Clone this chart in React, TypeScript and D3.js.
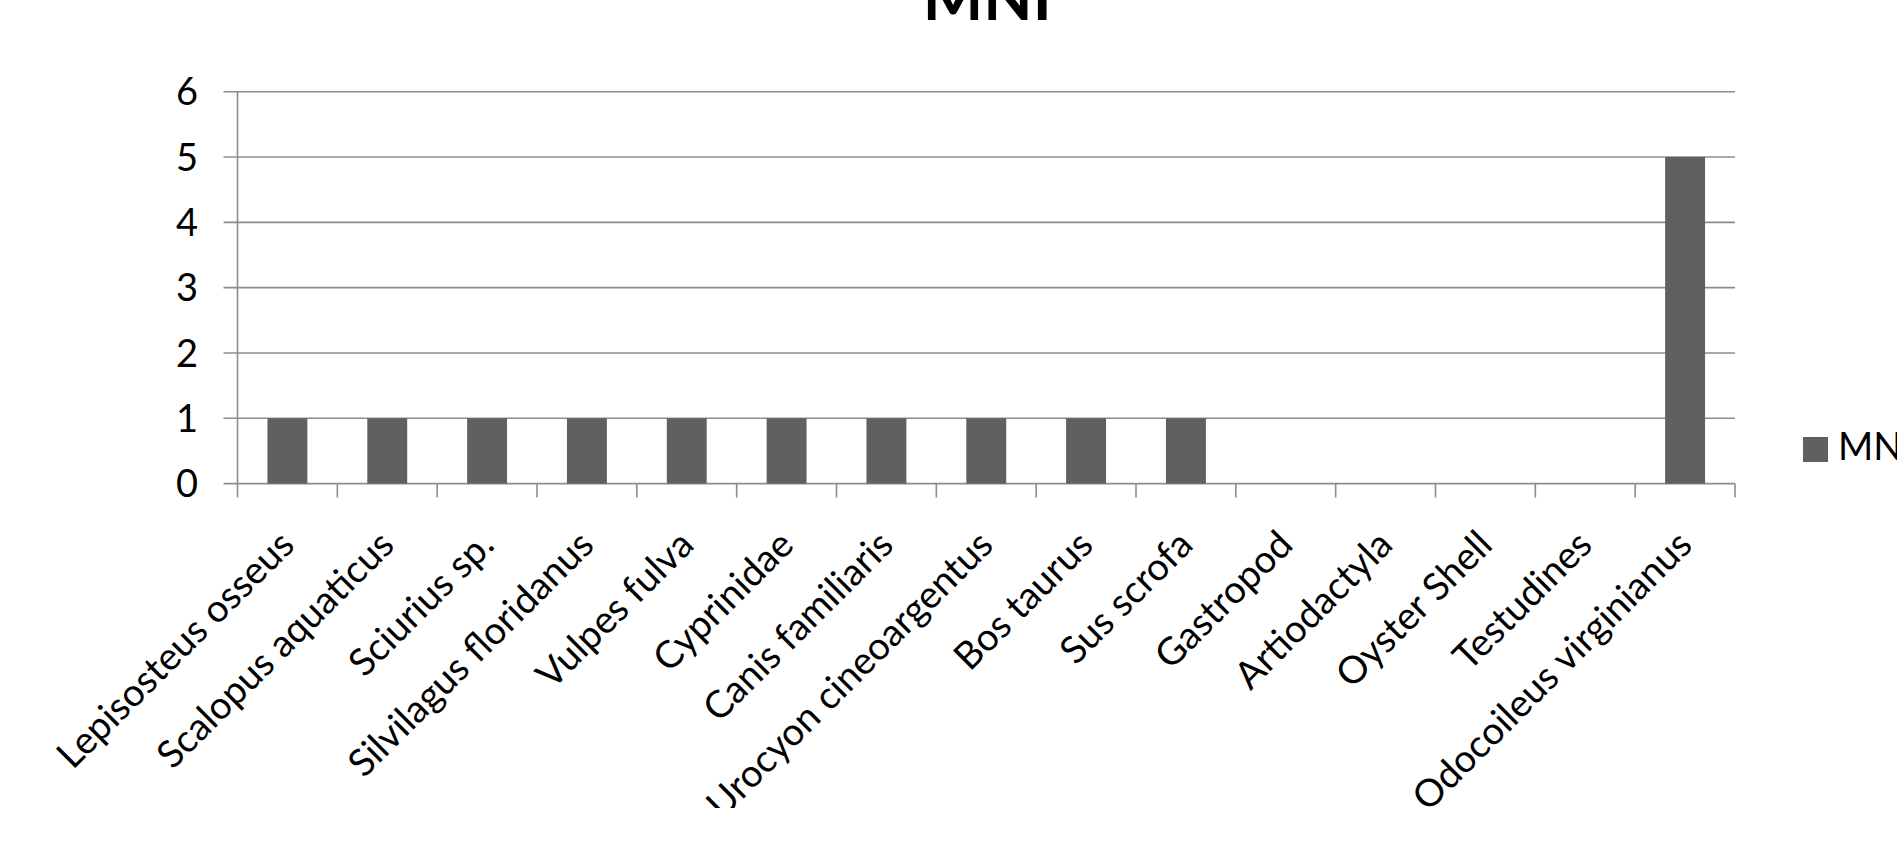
import { useEffect, useRef } from 'react';
import * as d3 from 'd3';

const categories = [
  'Lepisosteus osseus',
  'Scalopus aquaticus',
  'Sciurius sp.',
  'Silvilagus floridanus',
  'Vulpes fulva',
  'Cyprinidae',
  'Canis familiaris',
  'Urocyon cineoargentus',
  'Bos taurus',
  'Sus scrofa',
  'Gastropod',
  'Artiodactyla',
  'Oyster Shell',
  'Testudines',
  'Odocoileus virginianus',
];
const mniValues = [1, 1, 1, 1, 1, 1, 1, 1, 1, 1, 0, 0, 0, 0, 5];
const yTicks = [0, 1, 2, 3, 4, 5, 6];
const seriesName = 'MNI';
const chartTitle = 'MNI';

const FONT = 'Lato, "Open Sans", sans-serif';
const BAR = '#606060';
const GRID = '#8c8c8c';

export default function App() {
  const svgRef = useRef<SVGSVGElement>(null);

  useEffect(() => {
    const svg = d3.select(svgRef.current);
    if (!svg.node()) return;
    svg.selectAll('*').remove();

    const width = 1897;
    const height = 862;
    const plot = { left: 237.5, right: 1735, top: 91.7, bottom: 483.6 };

    svg
      .append('defs')
      .append('clipPath')
      .attr('id', 'chart-clip')
      .append('rect')
      .attr('width', width)
      .attr('height', 808);

    const root = svg.append('g').attr('clip-path', 'url(#chart-clip)');

    const x = d3
      .scaleBand<string>()
      .domain(categories)
      .range([plot.left, plot.right])
      .paddingInner(0.6)
      .paddingOuter(0.3);
    const y = d3.scaleLinear().domain([0, 6]).range([plot.bottom, plot.top]);
    const step = x.step();

    // title (cut off at top like the source)
    root
      .append('text')
      .attr('x', (plot.left + plot.right) / 2 + 1)
      .attr('y', 20)
      .attr('text-anchor', 'middle')
      .attr('font-family', FONT)
      .attr('font-weight', 700)
      .attr('font-size', 64)
      .attr('fill', '#000')
      .text(chartTitle);

    // gridlines + y ticks
    root
      .append('g')
      .selectAll('line')
      .data(yTicks)
      .join('line')
      .attr('x1', plot.left - 14)
      .attr('x2', plot.right)
      .attr('y1', (d) => y(d))
      .attr('y2', (d) => y(d))
      .attr('stroke', GRID)
      .attr('stroke-width', 1.6);

    root
      .append('g')
      .selectAll('text')
      .data(yTicks)
      .join('text')
      .attr('x', 198)
      .attr('y', (d) => y(d))
      .attr('dy', '0.36em')
      .attr('text-anchor', 'end')
      .attr('font-family', FONT)
      .attr('font-size', 38)
      .attr('fill', '#000')
      .text((d) => d);

    // bars
    root
      .append('g')
      .selectAll('rect')
      .data(categories)
      .join('rect')
      .attr('x', (d) => x(d)!)
      .attr('y', (_, i) => y(mniValues[i]))
      .attr('width', x.bandwidth())
      .attr('height', (_, i) => y(0) - y(mniValues[i]))
      .attr('fill', BAR);

    // axes
    root
      .append('line')
      .attr('x1', plot.left)
      .attr('x2', plot.left)
      .attr('y1', plot.top)
      .attr('y2', plot.bottom + 14)
      .attr('stroke', GRID)
      .attr('stroke-width', 1.6);

    root
      .append('g')
      .selectAll('line')
      .data(d3.range(1, categories.length + 1))
      .join('line')
      .attr('x1', (i) => plot.left + i * step)
      .attr('x2', (i) => plot.left + i * step)
      .attr('y1', plot.bottom)
      .attr('y2', plot.bottom + 14)
      .attr('stroke', GRID)
      .attr('stroke-width', 1.6);

    // rotated category labels
    root
      .append('g')
      .selectAll('text')
      .data(categories)
      .join('text')
      .attr('transform', (d) => `translate(${x(d)! + x.bandwidth() / 2 + 9},547) rotate(-45)`)
      .attr('text-anchor', 'end')
      .attr('font-family', FONT)
      .attr('font-size', 38)
      .attr('fill', '#000')
      .text((d) => d);

    // legend
    const legend = root.append('g');
    legend
      .append('rect')
      .attr('x', 1803)
      .attr('y', 437)
      .attr('width', 25)
      .attr('height', 25)
      .attr('fill', BAR);
    legend
      .append('text')
      .attr('x', 1838)
      .attr('y', 460)
      .attr('font-family', FONT)
      .attr('font-size', 38)
      .attr('fill', '#000')
      .text(seriesName);
  }, []);

  return (
    <svg
      ref={svgRef}
      width={1897}
      height={862}
      style={{ position: 'absolute', left: 0, top: 0, background: '#fff' }}
    />
  );
}
